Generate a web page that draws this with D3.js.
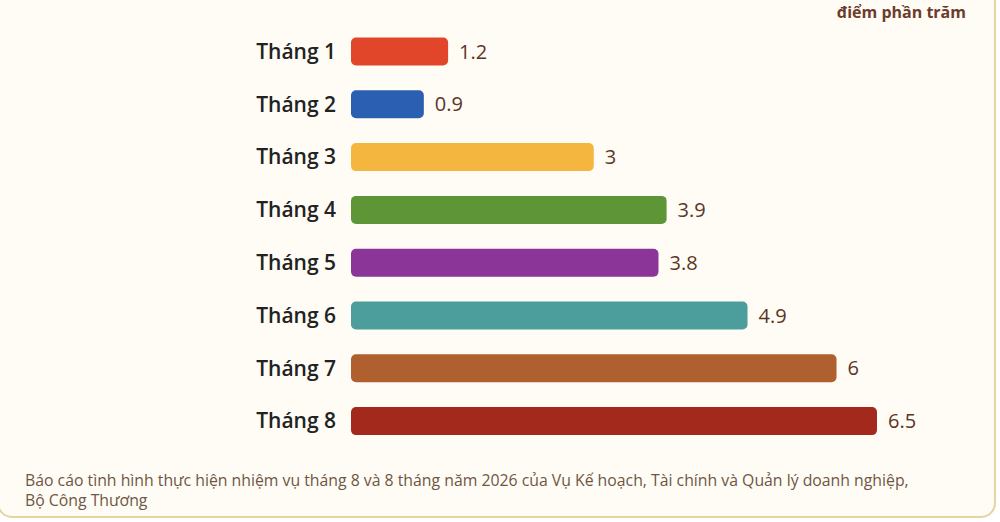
<!DOCTYPE html>
<html>
<head>
<meta charset="utf-8">
<script src="https://cdn.jsdelivr.net/npm/d3@7"></script>
<style>
  body { margin: 0; background: #ffffff; }
  svg { display: block; font-family: "Open Sans", "Noto Sans", sans-serif; }
</style>
</head>
<body>
<div id="viz"></div>
<script>
const width = 1000;
const height = 522;

// data
const months = ['Tháng 1', 'Tháng 2', 'Tháng 3', 'Tháng 4', 'Tháng 5', 'Tháng 6', 'Tháng 7', 'Tháng 8'];
const values = [1.2, 0.9, 3, 3.9, 3.8, 4.9, 6, 6.5];
const valueLabels = ['1.2', '0.9', '3', '3.9', '3.8', '4.9', '6', '6.5'];
const barColors = ['#e2462a', '#2b5fb1', '#f4b63f', '#5e9537', '#8c3599', '#4b9e9c', '#b0602f', '#a3291c'];
const unitText = 'điểm phần trăm';
const sourceLines = [
  'Báo cáo tình hình thực hiện nhiệm vụ tháng 8 và 8 tháng năm 2026 của Vụ Kế hoạch, Tài chính và Quản lý doanh nghiệp,',
  'Bộ Công Thương'
];

const svg = d3.select('#viz')
  .append('svg')
    .attr('width', width)
    .attr('height', height)
    .attr('viewBox', [0, 0, width, height]);

// cream panel with rounded border
svg.append('rect')
  .attr('x', -2)
  .attr('y', -30)
  .attr('width', 997)
  .attr('height', 547)
  .attr('rx', 14)
  .attr('fill', '#fefcf4')
  .attr('stroke', '#e3d4a2')
  .attr('stroke-width', 2);

const xScale = d3.scaleLinear()
  .domain([0, 6.5])
  .range([351, 877]);

const yScale = d3.scaleBand()
  .domain(months)
  .range([25.1, 447.5])
  .paddingInner(0.47)
  .paddingOuter(0.235);

const bars = svg.append('g');
bars.selectAll('rect').data(months).join('rect')
  .attr('x', xScale(0))
  .attr('y', d => yScale(d))
  .attr('width', (d, i) => xScale(values[i]) - xScale(0))
  .attr('height', yScale.bandwidth())
  .attr('rx', 5)
  .attr('fill', (d, i) => barColors[i]);

// category labels
svg.append('g').selectAll('text').data(months).join('text')
  .attr('x', 336)
  .attr('y', d => yScale(d) + yScale.bandwidth() / 2)
  .attr('dy', '0.35em')
  .attr('text-anchor', 'end')
  .attr('font-size', 21)
  .attr('font-weight', 600)
  .attr('fill', '#222222')
  .text(d => d);

// value labels
svg.append('g').selectAll('text').data(months).join('text')
  .attr('x', (d, i) => xScale(values[i]) + 11)
  .attr('y', d => yScale(d) + yScale.bandwidth() / 2)
  .attr('dy', '0.35em')
  .attr('font-size', 20)
  .attr('font-weight', 500)
  .attr('fill', '#5b3526')
  .text((d, i) => valueLabels[i]);

// unit
svg.append('text')
  .attr('x', 966)
  .attr('y', 18)
  .attr('text-anchor', 'end')
  .attr('font-size', 16)
  .attr('font-weight', 'bold')
  .attr('fill', '#6b3b2c')
  .text(unitText);

// source note
svg.append('g').selectAll('text').data(sourceLines).join('text')
  .attr('x', 25)
  .attr('y', (d, i) => 486 + i * 20)
  .attr('font-size', 15.8)
  .attr('fill', '#6e5646')
  .text(d => d);
</script>
</body>
</html>
